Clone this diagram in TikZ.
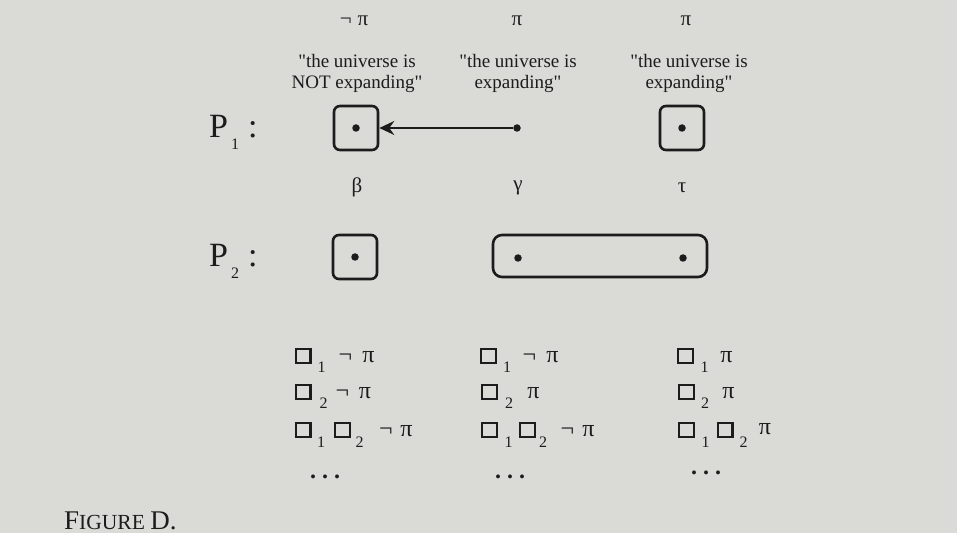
\documentclass[tikz,border=0pt]{standalone}
\usepackage{fontspec}
\setmainfont{Liberation Serif}[Ligatures=TeXOff]
\usetikzlibrary{arrows.meta}
\definecolor{paper}{RGB}{218,218,215}
\definecolor{ink}{RGB}{28,28,28}
\newcommand\bx{{\setlength\fboxsep{0pt}\setlength\fboxrule{2.3pt}\fbox{\rule{0pt}{12.2pt}\hspace{12.4pt}}}}
\newcommand\hs[1]{\hspace{#1pt}}
% glyph placed by ink centre on a baseline
\newcommand\gl[4]{\node[gly] (#1) at (#2,#3) {#4};}
\newcommand\dg[4]{\node[dig] (#1) at (#2,#3) {#4};}
\tikzset{
  every node/.style={text=ink},
  qt/.style={font=\fontsize{19}{21}\selectfont, align=center, inner sep=0pt},
  sym/.style={font=\fontsize{21}{22}\selectfont, inner sep=0pt},
  lbl/.style={font=\fontsize{34}{36}\selectfont, inner sep=0pt, anchor=base west},
  gly/.style={font=\fontsize{24}{24}\selectfont, inner sep=0pt, anchor=base},
  dig/.style={font=\fontsize{16}{16}\selectfont, inner sep=0pt, anchor=base},
  row/.style={font=\fontsize{20}{22}\selectfont, inner sep=0pt, anchor=base west},
  pbox/.style={draw=ink, line width=2.6pt, rounded corners=6pt, minimum width=44pt, minimum height=44pt, inner sep=0pt},
  lbox/.style={draw=ink, line width=2.6pt, rounded corners=9pt, minimum width=214pt, minimum height=42pt, inner sep=0pt},
  pt/.style={circle, fill=ink, inner sep=0pt, minimum size=7.5pt},
  arr/.style={draw=ink, line width=1.6pt, -{Stealth[length=15pt,width=14pt,inset=5pt]}},
}
\begin{document}
\begin{tikzpicture}[x=1pt,y=-1pt]
\fill[paper] (0,0) rectangle (967,540);
\fill[white] (957,0) rectangle (967,540);
\fill[white] (0,533) rectangle (967,540);
\useasboundingbox (0,0) rectangle (967,540);

% top symbols
\node[sym] (s1) at (354,21) {¬\hspace{6pt}π};
\node[sym] (s2) at (517,21) {π};
\node[sym] (s3) at (686,21) {π};

% quotes
\node[qt] (q1) at (357,73) {"the universe is\\NOT expanding"};
\node[qt] (q2) at (518,73) {"the universe is\\expanding"};
\node[qt] (q3) at (689,73) {"the universe is\\expanding"};

% P1 row
\node[lbl] (p1) at (209,138) {P\hspace{3pt}\raisebox{-12pt}{\fontsize{16}{16}\selectfont 1}\hspace{9pt}:};
\node[pbox] (b1) at (356,128) {};
\node[pt] (d1) at (356,128) {};
\node[pt] (g1) at (517,128) {};
\node[pbox] (b3) at (682,128) {};
\node[pt] (d3) at (682,128) {};
\draw[arr] (g1) -- (b1);

% Greek labels
\node[sym] (be) at (357,187) {β};
\node[sym] (ga) at (518,188) {γ};
\node[sym] (ta) at (682,188) {τ};

% P2 row
\node[lbl] (p2) at (209,267) {P\hspace{3pt}\raisebox{-12pt}{\fontsize{16}{16}\selectfont 2}\hspace{9pt}:};
\node[pbox] (b2) at (355,257) {};
\node[pt] (d2) at (355,257) {};
\node[lbox] (lb) at (600,256) {};
\node[pt] (e1) at (518,258) {};
\node[pt] (e2) at (683,258) {};

% bottom rows: column 1
\gl{a1b}{303}{362}{\bx} \dg{a1s}{321.5}{372}{1} \gl{a1n}{345.5}{362}{¬} \gl{a1p}{368.5}{362}{π}
\gl{a2b}{303}{398}{\bx} \dg{a2s}{323.5}{408}{2} \gl{a2n}{342.5}{398}{¬} \gl{a2p}{365}{398}{π}
\gl{a3b}{303}{436}{\bx} \dg{a3s}{321}{447}{1} \gl{a3c}{342.5}{436}{\bx} \dg{a3t}{359.5}{447}{2} \gl{a3n}{386}{436}{¬} \gl{a3p}{406.5}{436}{π}
% column 2
\gl{b1b}{488.5}{362}{\bx} \dg{b1s}{507}{372}{1} \gl{b1n}{529.5}{362}{¬} \gl{b1p}{552.5}{362}{π}
\gl{b2b}{489.5}{398}{\bx} \dg{b2s}{509}{408}{2} \gl{b2p}{533.5}{398}{π}
\gl{b3b}{489.5}{436}{\bx} \dg{b3s}{508.5}{447}{1} \gl{b3c}{527.5}{436}{\bx} \dg{b3t}{543}{447}{2} \gl{b3n}{567.5}{436}{¬} \gl{b3p}{588.5}{436}{π}
% column 3
\gl{c1b}{685.5}{362}{\bx} \dg{c1s}{704.5}{372}{1} \gl{c1p}{726.5}{362}{π}
\gl{c2b}{686.5}{398}{\bx} \dg{c2s}{705}{408}{2} \gl{c2p}{728.5}{398}{π}
\gl{c3b}{686.5}{436}{\bx} \dg{c3s}{705.5}{447}{1} \gl{c3c}{725}{436}{\bx} \dg{c3t}{743.5}{447}{2} \gl{c3p}{765}{434}{π}
% ellipses
\gl{dd1}{325}{478}{\textbf{.\hs{6}.\hs{6}.}}
\gl{dd2}{510}{478}{\textbf{.\hs{6}.\hs{6}.}}
\gl{dd3}{706}{474}{\textbf{.\hs{6}.\hs{6}.}}

% caption
\node[row] (cap) at (64,529) {\fontsize{27}{27}\selectfont F\fontsize{21.5}{22}\selectfont IGURE \fontsize{27}{27}\selectfont D.};
\end{tikzpicture}
\end{document}
